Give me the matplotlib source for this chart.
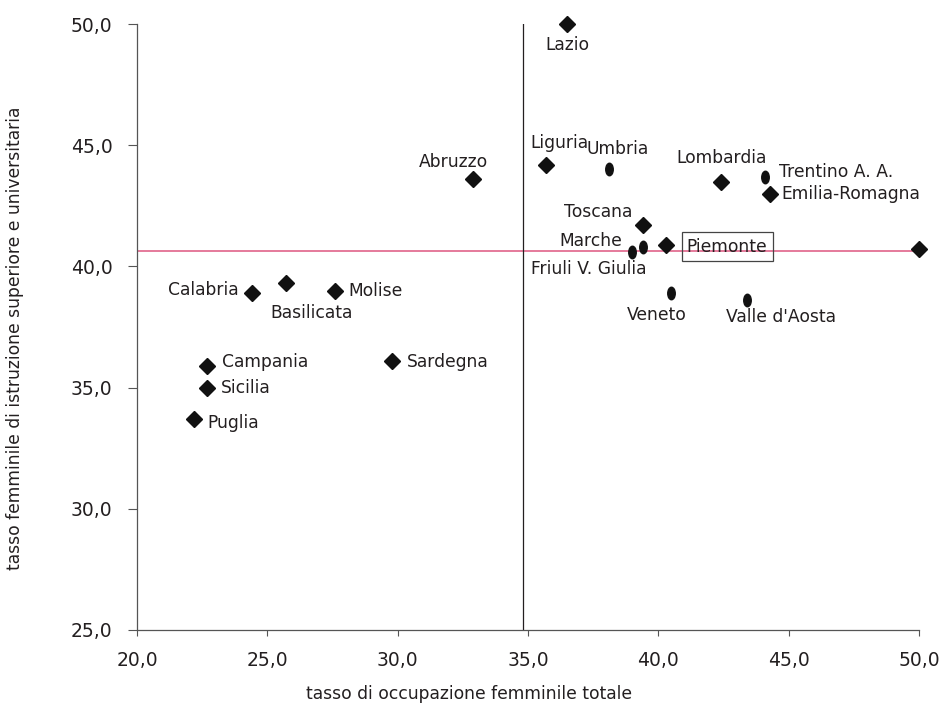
import matplotlib
matplotlib.use("Agg")
import matplotlib.pyplot as plt
from matplotlib.markers import MarkerStyle
from matplotlib.transforms import Affine2D

# dati regionali
regioni = ["Lazio", "Liguria", "Umbria", "Lombardia", "Trentino A. A.", "Emilia-Romagna",
           "Toscana", "Marche", "Friuli V. Giulia", "Piemonte", "Veneto", "Valle d'Aosta",
           "Calabria", "Basilicata", "Molise", "Campania", "Sicilia", "Puglia",
           "Sardegna", "Abruzzo", ""]
occupazione = [36.5, 35.7, 38.1, 42.4, 44.1, 44.3,
               39.4, 39.4, 39.0, 40.3, 40.5, 43.4,
               24.4, 25.7, 27.6, 22.7, 22.7, 22.2,
               29.8, 32.9, 50.0]
istruzione = [50.0, 44.2, 44.0, 43.5, 43.7, 43.0,
              41.7, 40.8, 40.6, 40.9, 38.9, 38.6,
              38.9, 39.3, 39.0, 35.9, 35.0, 33.7,
              36.1, 43.6, 40.7]
ellisse = [False, False, True, False, True, False,
           False, True, True, False, True, True,
           False, False, False, False, False, False,
           False, False, False]
media_x = 34.8
media_y = 40.64

# spostamento etichette (pixel) e allineamento
offset = [(0, -21, "center"), (13, 22, "center"), (9, 20, "center"), (1, 24, "center"),
          (14, 5, "left"), (11, 0, "left"), (-10, 13, "right"), (-21, 6, "right"),
          (-44, -17, "center"), (61, -2, "center"), (-15, -22, "center"), (34, -17, "center"),
          (-13, 3, "right"), (26, -30, "center"), (13, 0, "left"), (15, 4, "left"),
          (14, 0, "left"), (13, -4, "left"), (14, -1, "left"), (-20, 17, "center"), (0, 0, "center")]

txt = "#231f20"
plt.rcParams["font.family"] = ["DejaVu Sans"]

fig = plt.figure(figsize=(9.4, 7.08), dpi=100)
ax = fig.add_axes([0.1457, 0.1102, 0.8320, 0.8559])

ax.axhline(media_y, color="#e36f93", lw=1.3, zorder=1)
ax.axvline(media_x, color="#231f20", lw=0.9, zorder=1)

diamante = MarkerStyle("D")
ovale = MarkerStyle("o", transform=Affine2D().scale(0.6, 1.0))
for x, y, e in zip(occupazione, istruzione, ellisse):
    ax.plot(x, y, marker=ovale if e else diamante, ms=9 if e else 8.5,
            color="#111111", ls="none", zorder=3, clip_on=False)

for nome, x, y, (dx, dy, ha) in zip(regioni, occupazione, istruzione, offset):
    if not nome:
        continue
    kw = {}
    if nome == "Piemonte":
        kw["bbox"] = dict(boxstyle="square,pad=0.3", fc="none", ec="#444444", lw=0.9)
    ax.annotate(nome, (x, y), xytext=(dx, dy), textcoords="offset pixels",
                ha=ha, va="center", fontsize=12.3, color=txt, **kw)

ax.set_xlim(20, 50)
ax.set_ylim(25, 50)
ax.set_xticks([20, 25, 30, 35, 40, 45, 50])
ax.set_yticks([25, 30, 35, 40, 45, 50])
ax.set_xticklabels(["20,0", "25,0", "30,0", "35,0", "40,0", "45,0", "50,0"])
ax.set_yticklabels(["25,0", "30,0", "35,0", "40,0", "45,0", "50,0"])
ax.tick_params(labelsize=13.5, colors=txt, width=0.8, color="#555555")
ax.tick_params(axis="x", length=4.3, pad=11)
ax.tick_params(axis="y", length=6.5, pad=11)
for s in ["top", "right"]:
    ax.spines[s].set_visible(False)
for s in ["left", "bottom"]:
    ax.spines[s].set_color("#555555")
    ax.spines[s].set_linewidth(0.9)

ax.set_xlabel("tasso di occupazione femminile totale", fontsize=12.3, color=txt)
ax.set_ylabel("tasso femminile di istruzione superiore e universitaria", fontsize=12.3,
              color=txt)
ax.xaxis.set_label_coords(0.4246, -0.091)
ax.yaxis.set_label_coords(-0.145, 0.482)

fig.savefig("out.png", dpi=100)
